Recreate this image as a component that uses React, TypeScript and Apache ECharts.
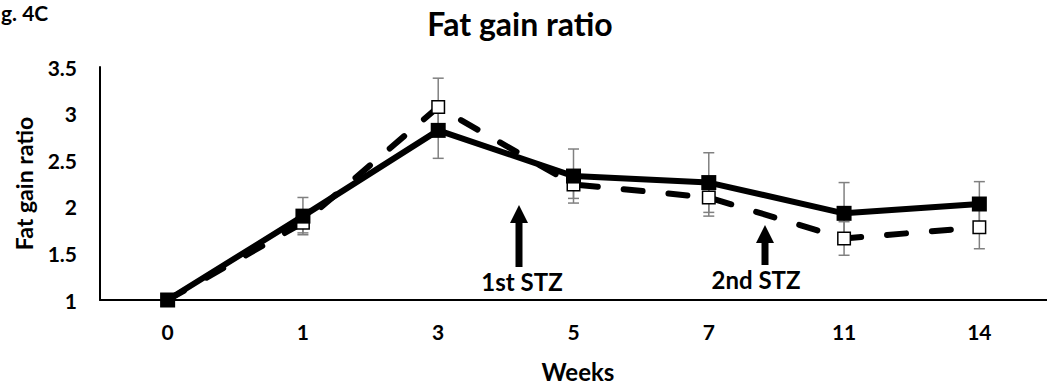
import React, { useEffect, useRef } from "react";
import * as echarts from "echarts";

const weeks = ["0", "1", "3", "5", "7", "11", "14"];
const yTicks = [1, 1.5, 2, 2.5, 3, 3.5];
const filledMeans = [1, 1.9, 2.82, 2.33, 2.26, 1.93, 2.03];
const filledErr = [0, 0.2, 0.3, 0.29, 0.32, 0.33, 0.24];
const openMeans = [1, 1.83, 3.07, 2.24, 2.1, 1.66, 1.78];
const openErr = [0, 0.11, 0.31, 0.15, 0.2, 0.18, 0.23];
const annotations = ["1st STZ", "2nd STZ"];
const figLabel = "g. 4C";

const FONT = "Lato, 'Open Sans', sans-serif";

function errData(means: number[], errs: number[]) {
  const out: number[][] = [];
  means.forEach((m, i) => {
    if (errs[i] > 0) out.push([i, m - errs[i], m + errs[i]]);
  });
  return out;
}

function errorSeries(data: number[][], z: number) {
  return {
    type: "custom",
    z,
    silent: true,
    encode: { x: 0, y: [1, 2] },
    data,
    renderItem: (params: any, api: any) => {
      const x = api.value(0);
      const lo = api.coord([x, api.value(1)]);
      const hi = api.coord([x, api.value(2)]);
      const hw = 5.5;
      const st = { stroke: "#808080", lineWidth: 1.5 };
      return {
        type: "group",
        children: [
          { type: "line", shape: { x1: lo[0], y1: lo[1], x2: hi[0], y2: hi[1] }, style: st },
          { type: "line", shape: { x1: lo[0] - hw, y1: lo[1], x2: lo[0] + hw, y2: lo[1] }, style: st },
          { type: "line", shape: { x1: hi[0] - hw, y1: hi[1], x2: hi[0] + hw, y2: hi[1] }, style: st },
        ],
      };
    },
  };
}

function txt(text: string, x: number, y: number, size: number, extra: any = {}) {
  return {
    type: "text",
    x,
    y,
    silent: true,
    ...extra,
    style: {
      text,
      fontSize: size,
      fontWeight: "bold",
      fontFamily: FONT,
      fill: "#000",
      align: extra.align || "center",
      textAlign: extra.align || "center",
      verticalAlign: "middle",
      textVerticalAlign: "middle",
    },
  };
}

function arrow(x: number, tip: number, bottom: number) {
  const hw = 9;
  const hh = 18;
  return [
    {
      type: "polygon",
      silent: true,
      shape: { points: [[x, tip], [x - hw, tip + hh], [x + hw, tip + hh]] },
      style: { fill: "#000" },
    },
    {
      type: "rect",
      silent: true,
      shape: { x: x - 3.5, y: tip + hh - 1, width: 7, height: bottom - tip - hh + 1 },
      style: { fill: "#000" },
    },
  ];
}

export default function App() {
  const ref = useRef<HTMLDivElement>(null);
  useEffect(() => {
    document.body.style.margin = "0";
    if (!ref.current) return;
    const chart = echarts.init(ref.current, null, { renderer: "svg" });
    chart.setOption({
      animation: false,
      backgroundColor: "#fff",
      grid: { left: 100, top: 67, width: 952, height: 233 },
      xAxis: {
        type: "category",
        data: weeks,
        boundaryGap: true,
        axisTick: { show: false },
        axisLine: { lineStyle: { color: "#000", width: 2 } },
        axisLabel: { margin: 21, fontSize: 21, fontWeight: "bold", fontFamily: FONT, color: "#000" },
        splitLine: { show: false },
      },
      yAxis: {
        type: "value",
        min: yTicks[0],
        max: yTicks[yTicks.length - 1],
        interval: 0.5,
        axisTick: { show: false },
        axisLine: { show: true, lineStyle: { color: "#000", width: 2 } },
        splitLine: { show: false },
        axisLabel: {
          margin: 23,
          fontSize: 21,
          fontWeight: "bold",
          fontFamily: FONT,
          color: "#000",
          formatter: (v: number) => String(v),
        },
      },
      series: [
        errorSeries(errData(openMeans, openErr), 1),
        errorSeries(errData(filledMeans, filledErr), 1),
        {
          type: "line",
          name: "open",
          z: 2,
          data: openMeans,
          symbol: "rect",
          symbolSize: 12.5,
          itemStyle: { color: "#fff", borderColor: "#000", borderWidth: 1.5 },
          lineStyle: { color: "#000", width: 6, type: [19, 26], cap: "round" },
        },
        {
          type: "line",
          name: "filled",
          z: 3,
          data: filledMeans,
          symbol: "rect",
          symbolSize: 15,
          itemStyle: { color: "#000" },
          lineStyle: { color: "#000", width: 6 },
        },
      ],
      graphic: [
        txt(figLabel, 1, 12, 21, { align: "left" }),
        txt("Fat gain ratio", 520, 23.5, 32),
        txt("Weeks", 578, 371.5, 24),
        txt("Fat gain ratio", 24, 183.5, 23, { rotation: Math.PI / 2 }),
        ...arrow(519, 205, 267),
        ...arrow(765, 225, 265),
        txt(annotations[0], 522, 281, 24),
        txt(annotations[1], 756, 279, 24),
      ],
    });
    return () => chart.dispose();
  }, []);
  return <div ref={ref} style={{ width: 1047, height: 385 }} />;
}
